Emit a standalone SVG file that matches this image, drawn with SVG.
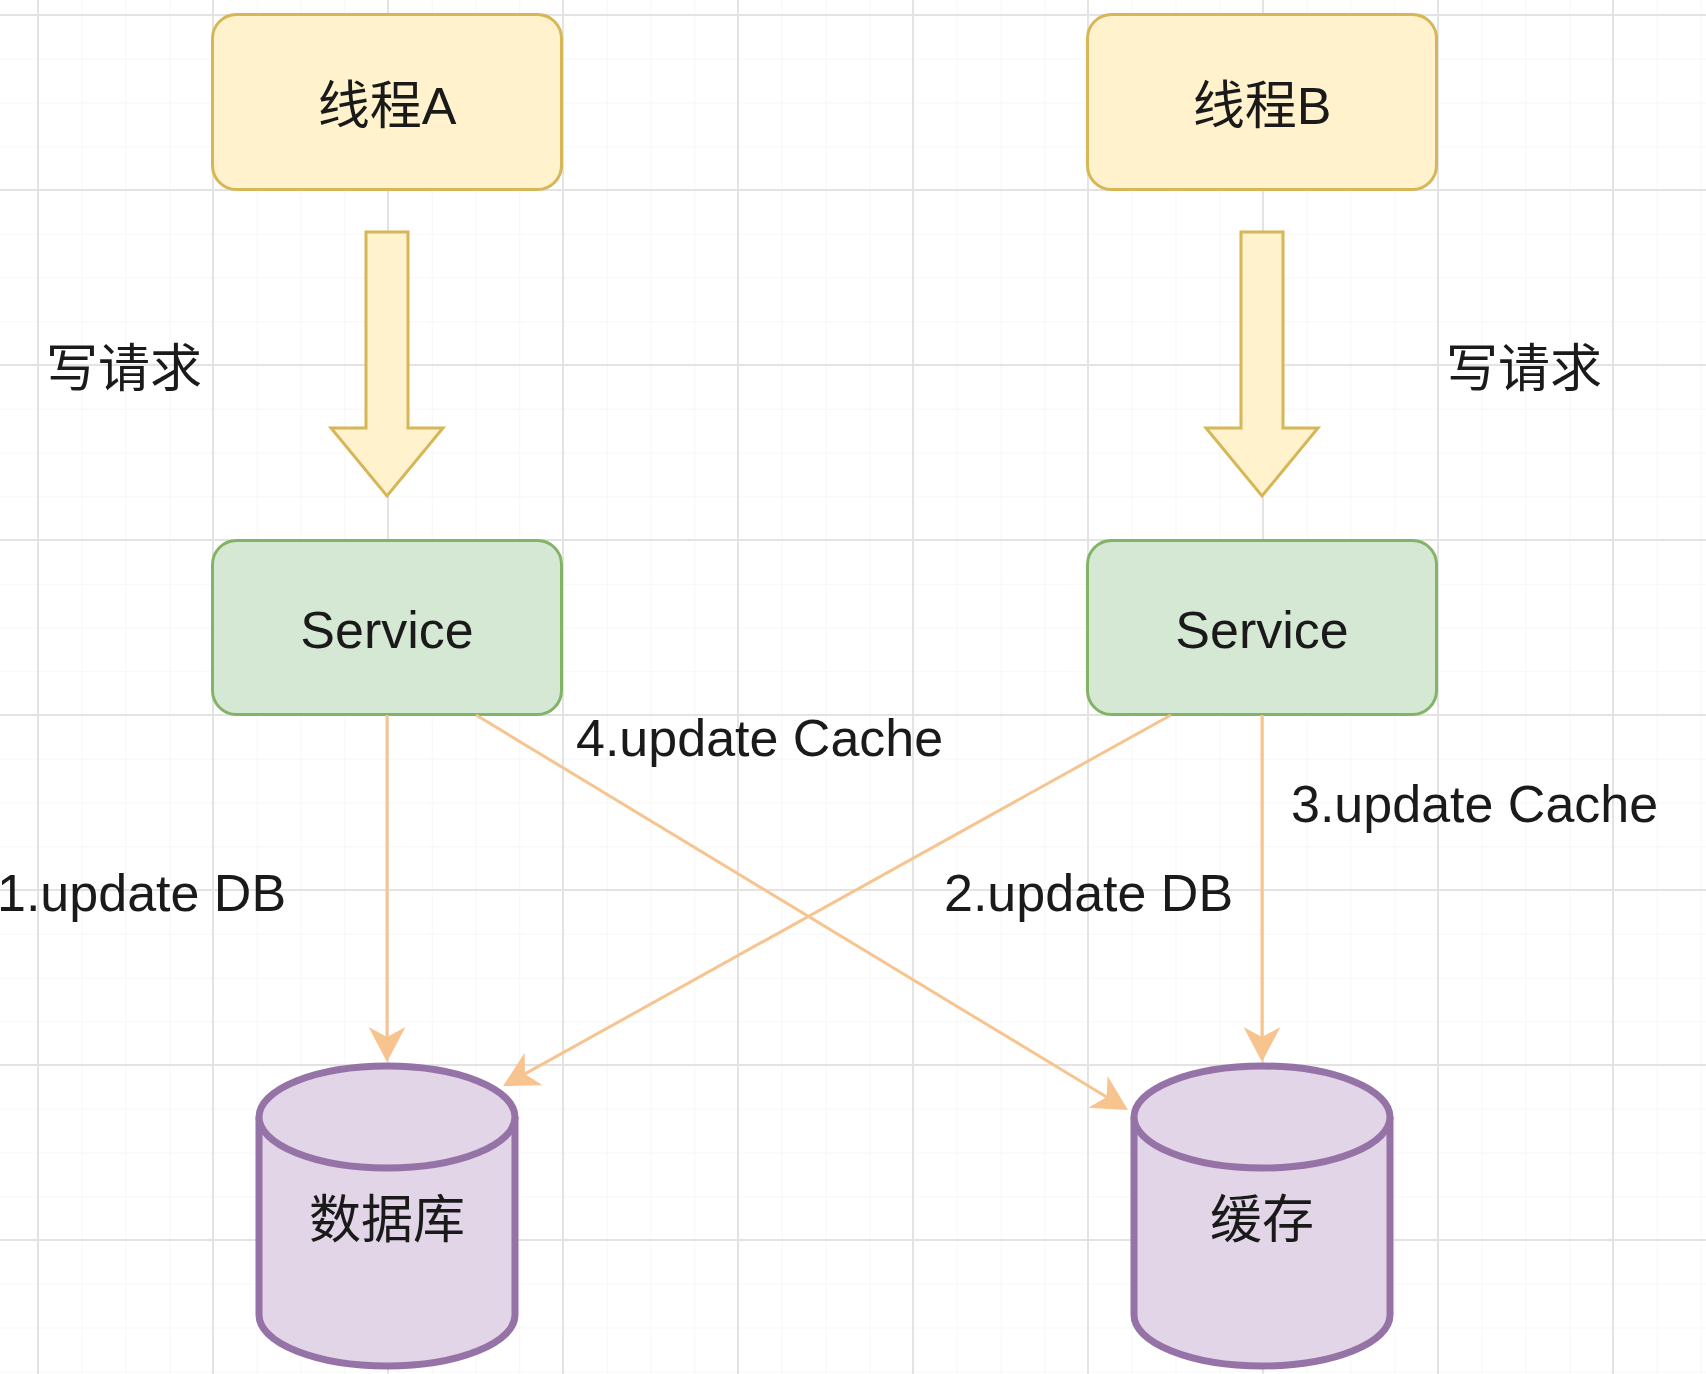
<svg xmlns="http://www.w3.org/2000/svg" width="1706" height="1374" viewBox="0 0 1706 1374">
<style>
.gmin{stroke:#f5f5f5;stroke-width:1.5}
.gmaj{stroke:#e3e3e3;stroke-width:2}
.yel{fill:#fff2cc;stroke:#d6b656;stroke-width:3}
.grn{fill:#d5e8d4;stroke:#82b366;stroke-width:3}
.cyl{fill:#e1d5e7;stroke:#9673a6;stroke-width:7}
.edge{stroke:#f7c48f;stroke-width:3;fill:none}
.t{font-family:"Liberation Sans","Noto Sans CJK SC",sans-serif;font-size:52px;fill:#1a1a1a}
.c{text-anchor:middle}
</style>
<defs>
<marker id="ah" markerUnits="userSpaceOnUse" viewBox="-12 -20 40 40" markerWidth="40" markerHeight="40" refX="0" refY="0" orient="auto">
<path d="M25 0 L-10 -18.5 L0 0 L-10 18.5 Z" fill="#f7c48f"/>
</marker>
<pattern id="minor" width="43.75" height="43.75" patternUnits="userSpaceOnUse" x="38" y="15">
<path d="M0 0 V43.75 M0 0 H43.75" class="gmin" fill="none"/>
</pattern>
</defs>
<rect width="1706" height="1374" fill="#ffffff"/>
<rect width="1706" height="1374" fill="url(#minor)"/>
<g id="grid" class="gmaj">
<line x1="38" y1="0" x2="38" y2="1374"/>
<line x1="213" y1="0" x2="213" y2="1374"/>
<line x1="388" y1="0" x2="388" y2="1374"/>
<line x1="563" y1="0" x2="563" y2="1374"/>
<line x1="738" y1="0" x2="738" y2="1374"/>
<line x1="913" y1="0" x2="913" y2="1374"/>
<line x1="1088" y1="0" x2="1088" y2="1374"/>
<line x1="1263" y1="0" x2="1263" y2="1374"/>
<line x1="1438" y1="0" x2="1438" y2="1374"/>
<line x1="1613" y1="0" x2="1613" y2="1374"/>
<line x1="0" y1="15" x2="1706" y2="15"/>
<line x1="0" y1="190" x2="1706" y2="190"/>
<line x1="0" y1="365" x2="1706" y2="365"/>
<line x1="0" y1="540" x2="1706" y2="540"/>
<line x1="0" y1="715" x2="1706" y2="715"/>
<line x1="0" y1="890" x2="1706" y2="890"/>
<line x1="0" y1="1065" x2="1706" y2="1065"/>
<line x1="0" y1="1240" x2="1706" y2="1240"/>
</g>

<g id="threadA">
<rect class="yel" x="212.5" y="14.5" width="349" height="175" rx="24"/>
<text class="t c" x="387" y="124">线程A</text>
</g>
<g id="threadB">
<rect class="yel" x="1087.5" y="14.5" width="349" height="175" rx="24"/>
<text class="t c" x="1262" y="124">线程B</text>
</g>

<g id="blockArrowA">
<polygon class="yel" points="366,232 408,232 408,428 443,428 387,496 331,428 366,428"/>
</g>
<g id="blockArrowB">
<polygon class="yel" points="1241,232 1283,232 1283,428 1318,428 1262,496 1206,428 1241,428"/>
</g>

<g id="labelWriteA"><text class="t c" x="124" y="387">写请求</text></g>
<g id="labelWriteB"><text class="t c" x="1524" y="387">写请求</text></g>

<g id="serviceA">
<rect class="grn" x="212.5" y="540.5" width="349" height="174" rx="24"/>
<text class="t c" x="387" y="648">Service</text>
</g>
<g id="serviceB">
<rect class="grn" x="1087.5" y="540.5" width="349" height="174" rx="24"/>
<text class="t c" x="1262" y="648">Service</text>
</g>

<g id="connectors">
<line class="edge" x1="387" y1="715" x2="387" y2="1037" marker-end="url(#ah)"/>
<line class="edge" x1="1262" y1="715" x2="1262" y2="1037" marker-end="url(#ah)"/>
<line class="edge" x1="476" y1="715" x2="1106.6" y2="1097" marker-end="url(#ah)"/>
<line class="edge" x1="1171" y1="715" x2="524.9" y2="1073.9" marker-end="url(#ah)"/>
</g>

<g id="edgeLabels">
<text class="t" x="576" y="756">4.update Cache</text>
<text class="t" x="1291" y="822">3.update Cache</text>
<text class="t" x="-3" y="911">1.update DB</text>
<text class="t" x="944" y="911">2.update DB</text>
</g>

<g id="database">
<path class="cyl" d="M259 1117 A128 51 0 0 1 515 1117 L515 1315 A128 51 0 0 1 259 1315 Z"/>
<path class="cyl" fill="none" d="M259 1117 A128 51 0 0 0 515 1117"/>
<text class="t c" x="387" y="1238">数据库</text>
</g>
<g id="cache">
<path class="cyl" d="M1134 1117 A128 51 0 0 1 1390 1117 L1390 1315 A128 51 0 0 1 1134 1315 Z"/>
<path class="cyl" fill="none" d="M1134 1117 A128 51 0 0 0 1390 1117"/>
<text class="t c" x="1262" y="1238">缓存</text>
</g>
</svg>
